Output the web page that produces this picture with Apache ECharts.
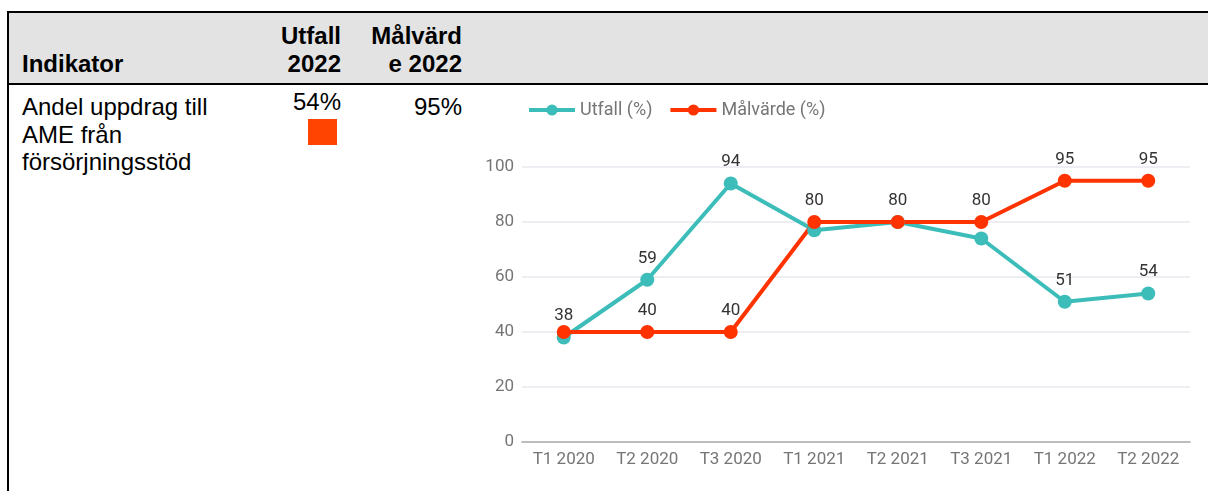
<!DOCTYPE html>
<html>
<head>
<meta charset="utf-8">
<title>Andel uppdrag till AME från försörjningsstöd</title>
<script src="https://cdn.jsdelivr.net/npm/echarts@6/dist/echarts.min.js"></script>
<style>
  html, body { margin: 0; padding: 0; background: #fff; }
  #page { position: relative; width: 1208px; height: 491px; overflow: hidden;
          font-family: "Liberation Sans", Arial, Helvetica, sans-serif; color: #000; }
  .head { position: absolute; left: 7px; top: 11px; width: 1201px; height: 70px;
          background: #e3e3e3; border-top: 2px solid #000; border-bottom: 2px solid #000; }
  .leftline { position: absolute; left: 7px; top: 11px; width: 2px; height: 480px; background: #000; }
  .t { position: absolute; font-size: 24px; white-space: nowrap; }
  .b { font-weight: bold; }
  .r { text-align: right; }
  .status { position: absolute; left: 308px; top: 119px; width: 29px; height: 26px; background: #ff4300; }
  #chart { position: absolute; left: 0; top: 0; width: 1208px; height: 491px; }
</style>
</head>
<body>
<div id="page">
  <div class="head"></div>
  <div class="leftline"></div>

  <div class="t b" style="left:22px; top:50px; line-height:27px;">Indikator</div>
  <div class="t b r" style="right:867px; top:22px; line-height:28px;">Utfall<br>2022</div>
  <div class="t b r" style="right:746px; top:22px; line-height:28px;">Målvärd<br>e 2022</div>

  <div class="t" style="left:22px; top:93px; line-height:27.5px;">Andel uppdrag till<br>AME från<br>försörjningsstöd</div>
  <div class="t r" style="right:867px; top:88px; line-height:27px;">54%</div>
  <div class="status"></div>
  <div class="t r" style="right:746px; top:93px; line-height:27px;">95%</div>

  <div id="chart"></div>
</div>

<script>
// Periods (tertial) and values in percent
const perioder = ['T1 2020', 'T2 2020', 'T3 2020', 'T1 2021', 'T2 2021', 'T3 2021', 'T1 2022', 'T2 2022'];
const utfall   = [38, 59, 94, 77, 80, 74, 51, 54];
const malvarde = [40, 40, 40, 80, 80, 80, 95, 95];

// Which value labels are printed (overlapping ones are left out)
const utfallEtikett   = [true, true, true, false, false, false, true, true];
const malvardeEtikett = [false, true, true, true, true, true, true, true];

const serieNamn = ['Utfall (%)', 'Målvärde (%)'];
const farger = ['#3cbdb9', '#ff3300'];

function withLabels(values, shown) {
  return values.map((v, i) => ({ value: v, label: { show: shown[i] } }));
}

const chart = echarts.init(document.getElementById('chart'), null, { renderer: 'canvas' });

const labelStyle = {
  show: true,
  position: 'top',
  distance: 6,
  color: '#333333',
  fontFamily: 'Roboto',
  fontSize: 17
};

chart.setOption({
  animation: false,
  backgroundColor: 'transparent',
  color: farger,
  legend: {
    left: 522,
    top: 96,
    itemWidth: 46,
    itemHeight: 14,
    itemGap: 16,
    lineStyle: { width: 4 },
    textStyle: { color: '#757575', fontFamily: 'Roboto', fontSize: 18 },
    data: serieNamn
  },
  grid: { left: 522, right: 18, top: 167, bottom: 49, containLabel: false },
  xAxis: {
    type: 'category',
    data: perioder,
    boundaryGap: true,
    axisTick: { show: false },
    axisLine: { show: true, lineStyle: { color: '#bdbdbd', width: 2 } },
    axisLabel: { color: '#757575', fontFamily: 'Roboto', fontSize: 17, margin: 9 }
  },
  yAxis: {
    type: 'value',
    min: 0,
    max: 100,
    interval: 20,
    axisLine: { show: false },
    axisTick: { show: false },
    axisLabel: { color: '#757575', fontFamily: 'Roboto', fontSize: 17, margin: 8 },
    splitLine: { lineStyle: { color: '#e6e9ee', width: 1.5 } }
  },
  series: [
    {
      name: serieNamn[0],
      type: 'line',
      data: withLabels(utfall, utfallEtikett),
      symbol: 'circle',
      symbolSize: 14,
      lineStyle: { width: 4, color: farger[0] },
      itemStyle: { color: farger[0] },
      label: labelStyle
    },
    {
      name: serieNamn[1],
      type: 'line',
      data: withLabels(malvarde, malvardeEtikett),
      symbol: 'circle',
      symbolSize: 14,
      lineStyle: { width: 4, color: farger[1] },
      itemStyle: { color: farger[1] },
      label: labelStyle
    }
  ]
});
</script>
</body>
</html>
